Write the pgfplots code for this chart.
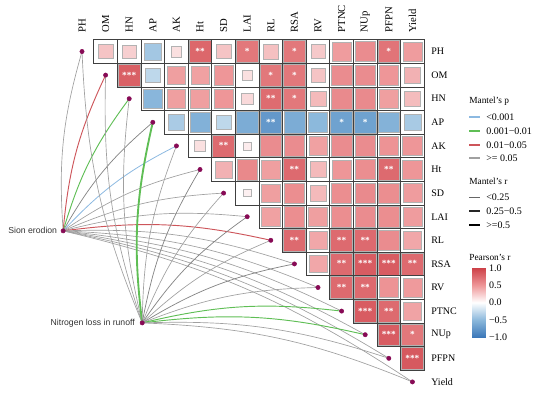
\documentclass[border=0pt]{standalone}
\usepackage{fontspec}
\setmainfont{Liberation Serif}
\newfontfamily\sansf{Liberation Sans}
\usepackage{pgfplots}
\usepackage{pgfplotstable}
\pgfplotsset{compat=1.18}
\definecolor{dotc}{RGB}{135,10,85}
\definecolor{lgray}{RGB}{160,160,160}
\definecolor{lblue}{RGB}{140,185,225}
\definecolor{lgreen}{RGB}{95,190,85}
\definecolor{lred}{RGB}{205,85,90}
\tikzset{
 lg/.style={draw=lgray, line width=0.5pt},
 lgm/.style={draw=black!48, line width=0.55pt},
 lr/.style={draw=lred, line width=0.7pt},
 lgr/.style={draw=lgreen, line width=0.7pt},
 lgrt/.style={draw=lgreen, line width=1.4pt},
 lb/.style={draw=lblue, line width=0.6pt},
}
\pgfplotsset{rbmap/.style={colormap={rb}{rgb255=(60,120,185) rgb255=(140,185,220) rgb255=(255,255,255) rgb255=(238,150,152) rgb255=(205,65,72)}}}
\newcommand{\lk}[3]{\draw[#1] (axis cs:#2) to[bend left=10] (axis cs:#3);}
\newcommand{\lf}{\fontsize{7.5}{9}\selectfont}
\newcommand{\cf}{\fontsize{8}{9}\selectfont}
\newcommand{\tf}{\fontsize{7}{8}\selectfont}

\pgfplotstableread{
x y r
1 0 0.28
2 0 0.23
3 0 -0.40
4 0 0.15
5 0 0.78
6 0 0.28
7 0 0.68
8 0 0.30
9 0 0.68
10 0 0.26
11 0 0.47
12 0 0.56
13 0 0.70
14 0 0.47
2 1 0.82
3 1 -0.28
4 1 0.46
5 1 0.45
6 1 0.50
7 1 0.15
8 1 0.68
9 1 0.68
10 1 0.28
11 1 0.56
12 1 0.56
13 1 0.50
14 1 0.37
3 2 -0.52
4 2 0.46
5 2 0.46
6 2 0.50
7 2 0.18
8 2 0.75
9 2 0.68
10 2 0.33
11 2 0.57
12 2 0.57
13 2 0.46
14 2 0.32
4 3 -0.37
5 3 -0.56
6 3 -0.28
7 3 -0.60
8 3 -0.75
9 3 -0.60
10 3 -0.50
11 3 -0.68
12 3 -0.68
13 3 -0.55
14 3 -0.38
5 4 0.15
6 4 0.76
7 4 0.09
8 4 0.56
9 4 0.56
10 4 0.45
11 4 0.56
12 4 0.56
13 4 0.52
14 4 0.50
6 5 0.37
7 5 0.58
8 5 0.46
9 5 0.76
10 5 0.33
11 5 0.50
12 5 0.55
13 5 0.76
14 5 0.50
7 6 0.07
8 6 0.46
9 6 0.55
10 6 0.33
11 6 0.55
12 6 0.57
13 6 0.55
14 6 0.47
8 7 0.45
9 7 0.55
10 7 0.46
11 7 0.55
12 7 0.56
13 7 0.55
14 7 0.47
9 8 0.76
10 8 0.42
11 8 0.76
12 8 0.76
13 8 0.56
14 8 0.42
10 9 0.42
11 9 0.76
12 9 0.84
13 9 0.84
14 9 0.76
11 10 0.76
12 10 0.76
13 10 0.52
14 10 0.48
12 11 0.84
13 11 0.76
14 11 0.44
13 12 0.84
14 12 0.68
14 13 0.86
}\cells

\pgfplotstableread{
x y s
5 0 **
7 0 *
9 0 *
13 0 *
2 1 ***
8 1 *
9 1 *
8 2 **
9 2 *
8 3 **
11 3 *
12 3 *
6 4 **
9 5 **
13 5 **
9 8 **
11 8 **
12 8 **
11 9 **
12 9 ***
13 9 ***
14 9 **
11 10 **
12 10 **
12 11 ***
13 11 **
13 12 ***
14 12 *
14 13 ***
}\stars

\pgfplotstableread{
x y
0 -1
1 -1
0 1
1 1
}\cbar

\begin{document}
\begin{tikzpicture}
\begin{axis}[name=ax,
  x=17.7pt, y=17.7pt, y dir=reverse,
  xmin=-3.475, xmax=19.83, ymin=-2.182, ymax=14.51,
  hide axis, clip=false,
  point meta min=-1, point meta max=1, rbmap,
]
% Mantel links: Sion erodion
\lk{lg}{-0.8,7.6}{0,0}
\lk{lr}{-0.8,7.6}{1,1}
\lk{lgr}{-0.8,7.6}{2,2}
\lk{lgm}{-0.8,7.6}{3,3}
\lk{lb}{-0.8,7.6}{4,4}
\lk{lg}{-0.8,7.6}{5,5}
\lk{lg}{-0.8,7.6}{6,6}
\lk{lg}{-0.8,7.6}{7,7}
\lk{lr}{-0.8,7.6}{8,8}
\lk{lg}{-0.8,7.6}{9,9}
\lk{lg}{-0.8,7.6}{10,10}
\lk{lg}{-0.8,7.6}{11,11}
\lk{lg}{-0.8,7.6}{12,12}
\lk{lg}{-0.8,7.6}{13,13}
\lk{lg}{-0.8,7.6}{14,14}
% Mantel links: Nitrogen loss in runoff
\lk{lg}{2.55,11.5}{0,0}
\lk{lg}{2.55,11.5}{1,1}
\lk{lg}{2.55,11.5}{2,2}
\lk{lgrt}{2.55,11.5}{3,3}
\lk{lg}{2.55,11.5}{4,4}
\lk{lgm}{2.55,11.5}{5,5}
\lk{lg}{2.55,11.5}{6,6}
\lk{lgm}{2.55,11.5}{7,7}
\lk{lg}{2.55,11.5}{8,8}
\lk{lgm}{2.55,11.5}{9,9}
\lk{lg}{2.55,11.5}{10,10}
\lk{lgr}{2.55,11.5}{11,11}
\lk{lgr}{2.55,11.5}{12,12}
\lk{lg}{2.55,11.5}{13,13}
\lk{lg}{2.55,11.5}{14,14}

% colored squares
\addplot[scatter, only marks, mark=square*,
  point meta=\thisrow{r},
  visualization depends on={8.2*min(1,sqrt(abs(\thisrow{r}))/0.8) \as \hs},
  scatter/use mapped color={draw=black!30, fill=mapped color},
  scatter/@pre marker code/.append style={/tikz/mark size=\hs pt},
  mark options={line width=0.4pt}]
  table[x=x, y=y]{\cells};
% cell grid
\addplot[only marks, mark=square, mark size=8.85pt,
  mark options={draw=black!75, line width=0.5pt}]
  table[x=x, y=y]{\cells};
% significance stars
\addplot[draw=none, mark=none, nodes near coords, point meta=explicit symbolic,
  nodes near coords align={center},
  every node near coord/.append style={anchor=center, text=white, font=\fontsize{7}{7}\selectfont\bfseries}]
  table[x=x, y=y, meta=s]{\stars};
% nodes
\addplot[only marks, mark=*, mark size=1.6pt, color=dotc] coordinates {
 (0,0) (1,1) (2,2) (3,3) (4,4) (5,5) (6,6) (7,7) (8,8) (9,9) (10,10) (11,11) (12,12) (13,13) (14,14)
 (-0.8,7.6) (2.55,11.5)};

\node[anchor=east, font=\sansf\fontsize{6.5}{7}\selectfont, text=black!80, xshift=-1pt] at (axis cs:-0.8,7.6) {Sion erodion};
\node[anchor=east, font=\sansf\fontsize{6.5}{7}\selectfont, text=black!80, xshift=-2pt] at (axis cs:2.55,11.5) {Nitrogen loss in runoff};

\foreach \n [count=\i from 0] in {PH,OM,HN,AP,AK,Ht,SD,LAI,RL,RSA,RV,PTNC,NUp,PFPN,Yield}{
  \edef\tmp{\noexpand\node[rotate=90, anchor=west, font=\noexpand\cf, inner sep=0pt] at (axis cs:\i,-0.80) {\n};
  \noexpand\node[anchor=west, font=\noexpand\lf, inner sep=0pt] at (axis cs:14.79,\i) {\n};}\tmp
}

% legend
\node[anchor=west, font=\tf, inner sep=0pt] at (axis cs:16.40,2.10) {Mantel's p};
\draw[lblue, line width=1pt] (axis cs:16.40,2.775) -- (axis cs:16.86,2.775);
\node[anchor=west, font=\lf, inner sep=0pt] at (axis cs:17.12,2.775) {<0.001};
\draw[lgreen, line width=1pt] (axis cs:16.40,3.369) -- (axis cs:16.86,3.369);
\node[anchor=west, font=\lf, inner sep=0pt] at (axis cs:17.12,3.369) {0.001−0.01};
\draw[lred, line width=1pt] (axis cs:16.40,3.962) -- (axis cs:16.86,3.962);
\node[anchor=west, font=\lf, inner sep=0pt] at (axis cs:17.12,3.962) {0.01−0.05};
\draw[lgray, line width=1pt] (axis cs:16.40,4.513) -- (axis cs:16.86,4.513);
\node[anchor=west, font=\lf, inner sep=0pt] at (axis cs:17.12,4.513) {>= 0.05};
\node[anchor=west, font=\tf, inner sep=0pt] at (axis cs:16.40,5.487) {Mantel's r};
\draw[black!60, line width=0.5pt] (axis cs:16.40,6.165) -- (axis cs:16.86,6.165);
\node[anchor=west, font=\lf, inner sep=0pt] at (axis cs:17.12,6.165) {<0.25};
\draw[black!85, line width=1pt] (axis cs:16.40,6.758) -- (axis cs:16.86,6.758);
\node[anchor=west, font=\lf, inner sep=0pt] at (axis cs:17.12,6.758) {0.25−0.5};
\draw[black, line width=1.8pt] (axis cs:16.40,7.352) -- (axis cs:16.86,7.352);
\node[anchor=west, font=\lf, inner sep=0pt] at (axis cs:17.12,7.352) {>=0.5};
\node[anchor=west, font=\tf, inner sep=0pt] at (axis cs:16.40,8.708) {Pearson's r};
\end{axis}
% colour bar
\begin{axis}[at={(ax.north west)}, anchor=north west, xshift=354pt, yshift=-201pt,
  scale only axis, width=9.75pt, height=51.75pt,
  xmin=0, xmax=1, ymin=-1, ymax=1, enlargelimits=false,
  axis line style={draw=none}, xtick=\empty,
  ytick={-1,-0.5,0,0.5,1},
  yticklabels={−1.0,−0.5,0.0,0.5,1.0},
  yticklabel pos=right, ytick pos=both, tick align=inside,
  major tick length=2.2pt, ytick style={draw=white, line width=0.6pt},
  yticklabel style={font=\lf, xshift=-0.5pt},
  point meta min=-1, point meta max=1, rbmap,
]
\addplot[surf, shader=interp, point meta=\thisrow{y}, mesh/cols=2] table[x=x, y=y]{\cbar};
\end{axis}
\pgfresetboundingbox
\path (ax.north west) rectangle (ax.south east);
\end{tikzpicture}
\end{document}
